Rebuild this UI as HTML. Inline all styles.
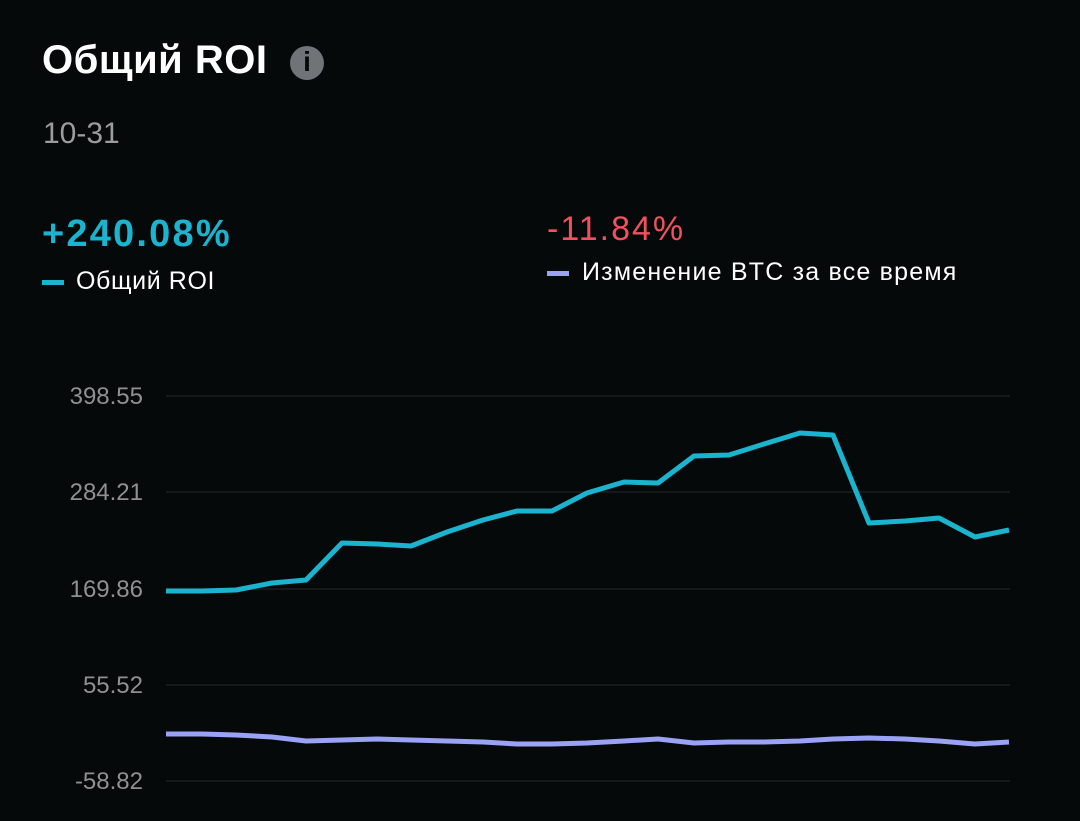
<!DOCTYPE html>
<html><head><meta charset="utf-8"><style>
body{margin:0;width:1080px;height:821px;background:#060909;overflow:hidden;font-family:"Liberation Sans","DejaVu Sans",sans-serif;position:relative}
.a{position:absolute;white-space:nowrap}
</style></head><body>
<div class="a" style="left:42px;top:38px;font-size:40px;font-weight:bold;color:#fff;letter-spacing:0.5px">Общий ROI</div>
<div class="a" style="left:290px;top:46px;width:34px;height:34px;border-radius:50%;background:#707378"></div>
<div class="a" style="left:302px;top:46px;font-size:28px;font-weight:bold;color:#060909;width:10px;text-align:center">i</div>
<div class="a" style="left:43px;top:117px;font-size:30px;color:#9a9c9e">10-31</div>
<div class="a" style="left:42px;top:213px;font-size:38px;font-weight:bold;color:#1ab4cf;letter-spacing:2.2px">+240.08%</div>
<div class="a" style="left:42px;top:280px;width:22px;height:5px;background:#1ab4cf"></div>
<div class="a" style="left:76px;top:267px;font-size:25px;color:#fff;letter-spacing:0.6px">Общий ROI</div>
<div class="a" style="left:547px;top:210px;font-size:34px;color:#f0505f;letter-spacing:2px">-11.84%</div>
<div class="a" style="left:547px;top:271px;width:22px;height:5px;background:#9aa2f6"></div>
<div class="a" style="left:582px;top:258px;font-size:25px;color:#fff;letter-spacing:1.2px">Изменение BTC за все время</div>
<svg class="a" style="left:0;top:0" width="1080" height="821">
<g stroke="#1c1f21" stroke-width="1.5">
<line x1="166" x2="1010" y1="396" y2="396"/><line x1="166" x2="1010" y1="492" y2="492"/><line x1="166" x2="1010" y1="589" y2="589"/><line x1="166" x2="1010" y1="685" y2="685"/><line x1="166" x2="1010" y1="781" y2="781"/>
</g>
<g font-family="Liberation Sans, sans-serif" font-size="24" fill="#8e9092" text-anchor="end">
<text x="143" y="404">398.55</text><text x="143" y="500">284.21</text><text x="143" y="597">169.86</text><text x="143" y="693">55.52</text><text x="143" y="789">-58.82</text>
</g>
<polyline fill="none" stroke="#1ab4cf" stroke-width="5" stroke-linejoin="round" points="166,591 202,591 236,590 272,583 306,580 342,543 377,544 411,546 447,532 483,520 517,511 552,511 587,493 624,482 658,483 694,456 729,455 764,444 800,433 833,435 869,523 905,521 939,518 975,537 1009,530"/>
<polyline fill="none" stroke="#9aa2f6" stroke-width="5" stroke-linejoin="round" points="166,734 202,734 236,735 272,737 306,741 342,740 377,739 411,740 447,741 483,742 517,744 552,744 587,743 624,741 658,739 694,743 729,742 764,742 800,741 833,739 869,738 905,739 939,741 975,744 1009,742"/>
</svg>
</body></html>
